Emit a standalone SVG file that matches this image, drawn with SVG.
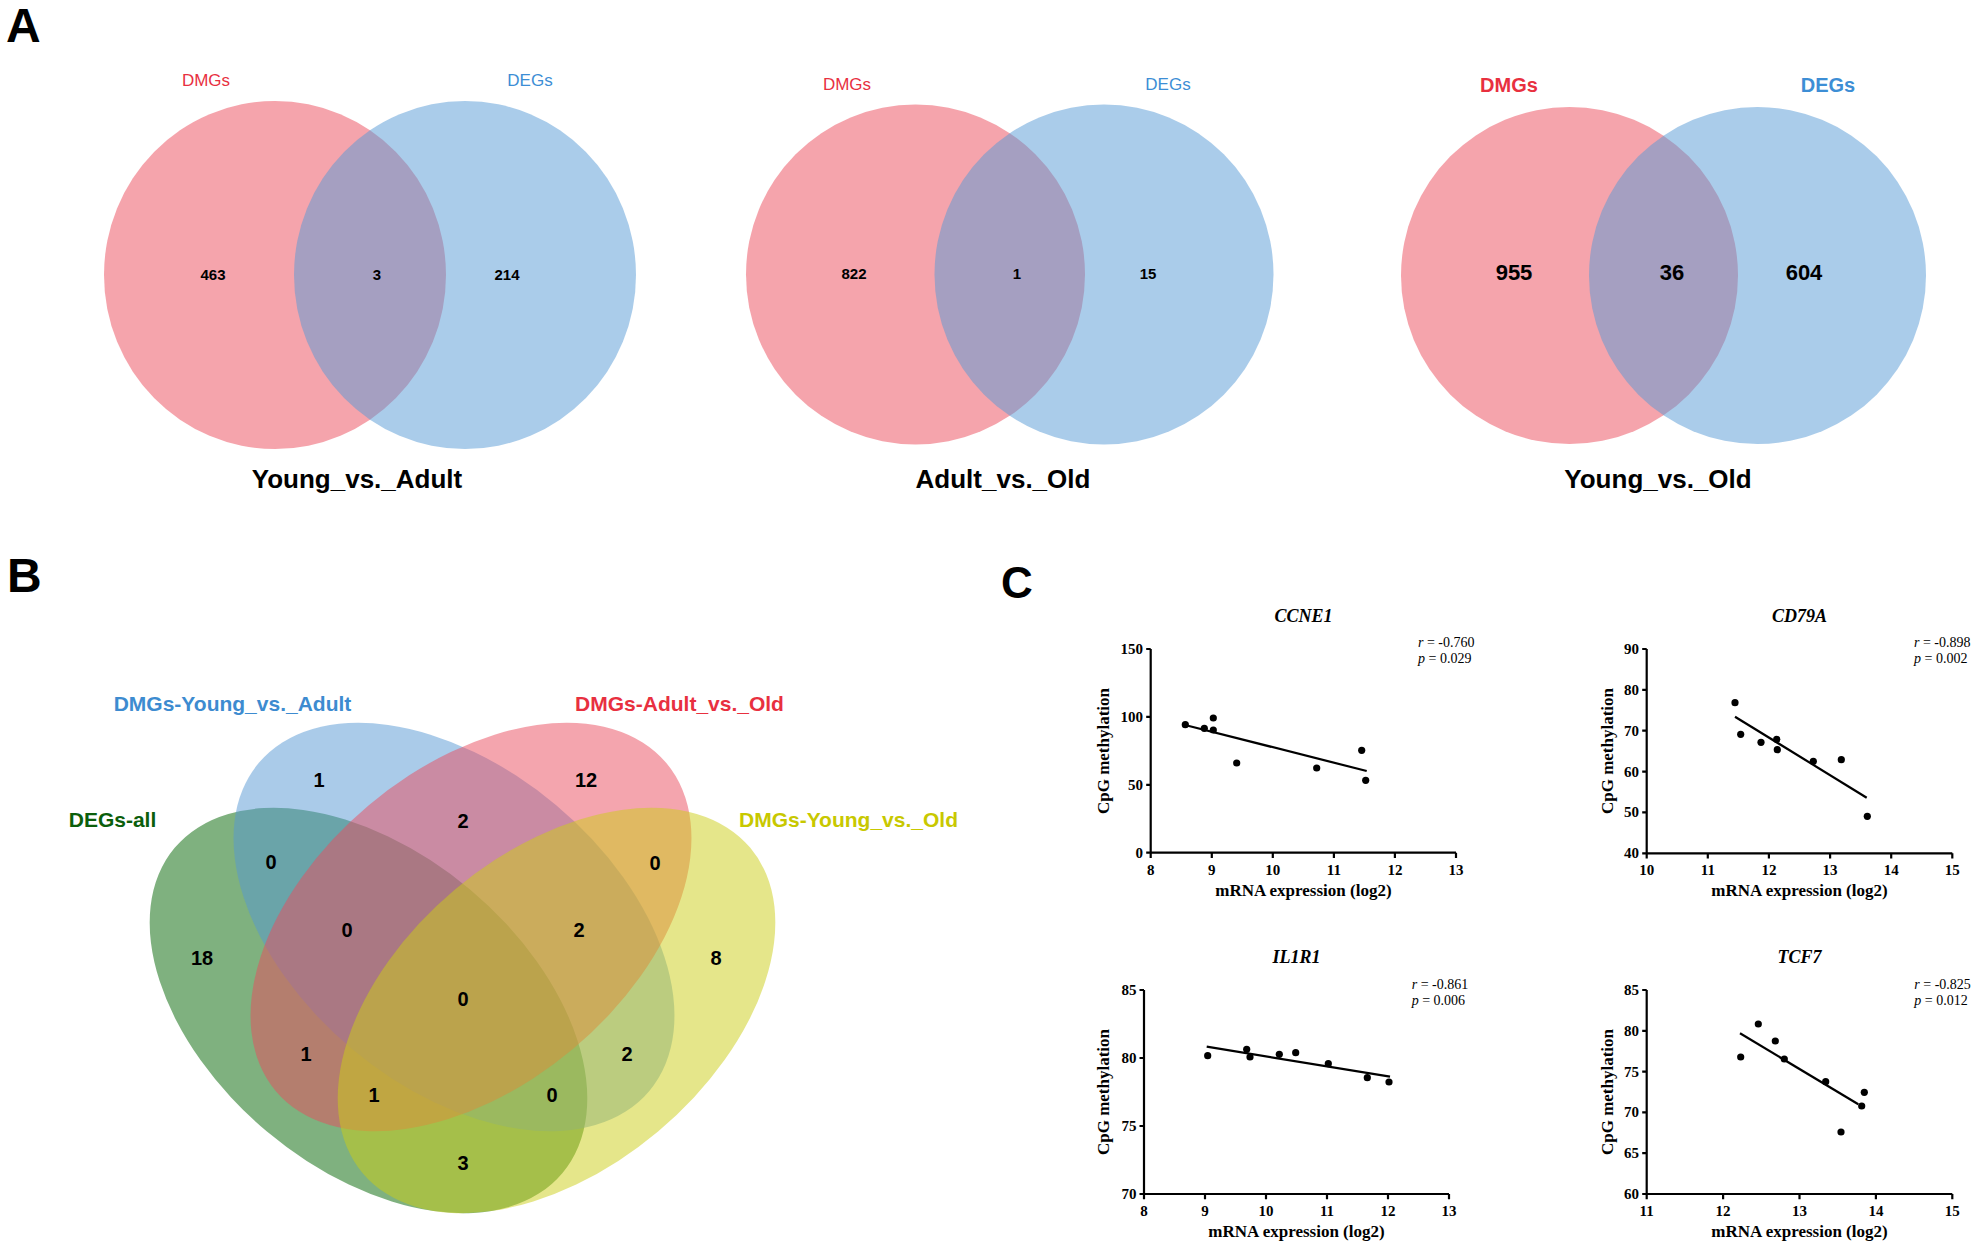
<svg xmlns="http://www.w3.org/2000/svg" width="1980" height="1250" viewBox="0 0 1980 1250">
<style>
.pl{font-family:"Liberation Sans",Arial,sans-serif;font-weight:bold;font-size:48px;fill:#000}
.sl{font-family:"Liberation Sans",Arial,sans-serif;font-size:17px}
.slb{font-family:"Liberation Sans",Arial,sans-serif;font-size:20px;font-weight:bold}
.num{font-family:"Liberation Sans",Arial,sans-serif;font-weight:bold;font-size:15px;fill:#000;text-anchor:middle}
.numL{font-family:"Liberation Sans",Arial,sans-serif;font-weight:bold;font-size:22px;fill:#000;text-anchor:middle}
.ttl{font-family:"Liberation Sans",Arial,sans-serif;font-weight:bold;font-size:26px;fill:#000;text-anchor:middle}
.red{fill:#E8303F}
.blu{fill:#3D8ED5}
.vr{fill:#EB4959;fill-opacity:0.5}
.vb{fill:#5599D5;fill-opacity:0.5}
.bl{font-family:"Liberation Sans",Arial,sans-serif;font-weight:bold;font-size:21px}
.bn{font-family:"Liberation Sans",Arial,sans-serif;font-weight:bold;font-size:20px;fill:#000;text-anchor:middle}
.eg{fill:#006400;fill-opacity:0.5}
.eb{fill:#5597D3;fill-opacity:0.5}
.er{fill:#E94B5D;fill-opacity:0.5}
.ey{fill:#CBCD15;fill-opacity:0.5}
.ax{fill:none;stroke:#000;stroke-width:2.2}
.rl{fill:none;stroke:#000;stroke-width:2.2}
.pt{fill:#000}
.tk{font-family:"Liberation Serif","Times New Roman",serif;font-weight:bold;font-size:15px;fill:#000}
.ty{text-anchor:end}
.tx{text-anchor:middle}
.gt{font-family:"Liberation Serif","Times New Roman",serif;font-weight:bold;font-style:italic;font-size:18px;text-anchor:middle}
.xl{font-family:"Liberation Serif","Times New Roman",serif;font-weight:bold;font-size:17px;text-anchor:middle}
.st{font-family:"Liberation Serif","Times New Roman",serif;font-size:14px}
.it{font-style:italic}
</style>

<!-- Panel labels -->
<text class="pl" x="6" y="42">A</text>
<text class="pl" x="7" y="592">B</text>
<text class="pl" x="1001" y="598" style="font-size:44px">C</text>

<!-- Panel A1 -->
<g id="venn-young-adult">
  <ellipse class="vr" cx="275" cy="275" rx="171" ry="174"/>
  <ellipse class="vb" cx="465" cy="275" rx="171" ry="174"/>
  <text class="sl red" x="206" y="86" text-anchor="middle">DMGs</text>
  <text class="sl blu" x="530" y="86" text-anchor="middle">DEGs</text>
  <text class="num" x="213" y="280">463</text>
  <text class="num" x="377" y="280">3</text>
  <text class="num" x="507" y="280">214</text>
  <text class="ttl" x="357" y="488">Young_vs._Adult</text>
</g>

<!-- Panel A2 -->
<g id="venn-adult-old">
  <ellipse class="vr" cx="915.5" cy="274.5" rx="169.5" ry="170"/>
  <ellipse class="vb" cx="1104" cy="274.5" rx="169.5" ry="170"/>
  <text class="sl red" x="847" y="90" text-anchor="middle">DMGs</text>
  <text class="sl blu" x="1168" y="90" text-anchor="middle">DEGs</text>
  <text class="num" x="854" y="279">822</text>
  <text class="num" x="1017" y="279">1</text>
  <text class="num" x="1148" y="279">15</text>
  <text class="ttl" x="1003" y="488">Adult_vs._Old</text>
</g>

<!-- Panel A3 -->
<g id="venn-young-old">
  <ellipse class="vr" cx="1569.5" cy="275.5" rx="168.5" ry="168.5"/>
  <ellipse class="vb" cx="1757.5" cy="275.5" rx="168.5" ry="168.5"/>
  <text class="slb red" x="1509" y="92" text-anchor="middle">DMGs</text>
  <text class="slb blu" x="1828" y="92" text-anchor="middle">DEGs</text>
  <text class="numL" x="1514" y="280">955</text>
  <text class="numL" x="1672" y="280">36</text>
  <text class="numL" x="1804" y="280">604</text>
  <text class="ttl" x="1658" y="488">Young_vs._Old</text>
</g>

<!-- Panel B: four-set Venn -->
<g id="venn4">
  <g id="set-degs-all"><ellipse class="eg" cx="368.5" cy="1010.5" rx="253" ry="158" transform="rotate(40 368.5 1010.5)"/></g>
  <g id="set-dmgs-young-adult"><ellipse class="eb" cx="454" cy="927" rx="255" ry="159" transform="rotate(40 454 927)"/></g>
  <g id="set-dmgs-adult-old"><ellipse class="er" cx="471" cy="927" rx="255" ry="159" transform="rotate(-40 471 927)"/></g>
  <g id="set-dmgs-young-old"><ellipse class="ey" cx="556.5" cy="1010.5" rx="253" ry="158" transform="rotate(-40 556.5 1010.5)"/></g>
  <text class="bl" x="232.5" y="711" text-anchor="middle" fill="#3D8BD0">DMGs-Young_vs._Adult</text>
  <text class="bl" x="679.5" y="711" text-anchor="middle" fill="#E8303F">DMGs-Adult_vs._Old</text>
  <text class="bl" x="112.5" y="827" text-anchor="middle" fill="#0B5E0B">DEGs-all</text>
  <text class="bl" x="739" y="827" fill="#C8C800">DMGs-Young_vs._Old</text>
  <text class="bn" x="319" y="787">1</text>
  <text class="bn" x="586" y="787">12</text>
  <text class="bn" x="463" y="828">2</text>
  <text class="bn" x="271" y="869">0</text>
  <text class="bn" x="655" y="870">0</text>
  <text class="bn" x="202" y="965">18</text>
  <text class="bn" x="716" y="965">8</text>
  <text class="bn" x="347" y="937">0</text>
  <text class="bn" x="579" y="937">2</text>
  <text class="bn" x="463" y="1006">0</text>
  <text class="bn" x="306" y="1061">1</text>
  <text class="bn" x="627" y="1061">2</text>
  <text class="bn" x="374" y="1102">1</text>
  <text class="bn" x="552" y="1102">0</text>
  <text class="bn" x="463" y="1170">3</text>
</g>

<!-- Panel C: CCNE1 -->
<g id="plot-ccne1">
  <text class="gt" x="1303.4" y="622">CCNE1</text>
  <path class="ax" d="M1150.7,649V852.7H1456M1146.2,649H1150.7M1146.2,716.9H1150.7M1146.2,784.8H1150.7M1146.2,852.7H1150.7M1150.7,852.7V858M1211.8,852.7V858M1272.8,852.7V858M1333.9,852.7V858M1394.9,852.7V858M1456,852.7V858"/>
  <text class="tk ty" x="1143" y="654">150</text>
  <text class="tk ty" x="1143" y="722">100</text>
  <text class="tk ty" x="1143" y="790">50</text>
  <text class="tk ty" x="1143" y="858">0</text>
  <text class="tk tx" x="1150.7" y="875">8</text>
  <text class="tk tx" x="1211.8" y="875">9</text>
  <text class="tk tx" x="1272.8" y="875">10</text>
  <text class="tk tx" x="1333.9" y="875">11</text>
  <text class="tk tx" x="1394.9" y="875">12</text>
  <text class="tk tx" x="1456" y="875">13</text>
  <text class="xl" x="1303.4" y="896">mRNA expression (log2)</text>
  <text class="xl" transform="translate(1108.5 751) rotate(-90)">CpG methylation</text>
  <text class="st" x="1418" y="647"><tspan class="it">r</tspan> = -0.760</text>
  <text class="st" x="1418" y="663"><tspan class="it">p</tspan> = 0.029</text>
  <path class="rl" d="M1188,725.7L1366.7,771"/>
  <g class="pt">
    <circle cx="1185.3" cy="724.7" r="3.6"/><circle cx="1204.3" cy="728.3" r="3.6"/>
    <circle cx="1213.3" cy="718" r="3.6"/><circle cx="1213.3" cy="730" r="3.6"/>
    <circle cx="1236.7" cy="763" r="3.6"/><circle cx="1316.7" cy="768" r="3.6"/>
    <circle cx="1361.7" cy="750.3" r="3.6"/><circle cx="1365.7" cy="780.3" r="3.6"/>
  </g>
</g>

<!-- Panel C: CD79A -->
<g id="plot-cd79a">
  <text class="gt" x="1799.5" y="622">CD79A</text>
  <path class="ax" d="M1646.7,649V853.3H1952.3M1642.2,649H1646.7M1642.2,689.9H1646.7M1642.2,730.7H1646.7M1642.2,771.6H1646.7M1642.2,812.4H1646.7M1642.2,853.3H1646.7M1646.7,853.3V858.6M1707.8,853.3V858.6M1768.9,853.3V858.6M1830.1,853.3V858.6M1891.2,853.3V858.6M1952.3,853.3V858.6"/>
  <text class="tk ty" x="1639" y="654">90</text>
  <text class="tk ty" x="1639" y="695">80</text>
  <text class="tk ty" x="1639" y="736">70</text>
  <text class="tk ty" x="1639" y="777">60</text>
  <text class="tk ty" x="1639" y="817">50</text>
  <text class="tk ty" x="1639" y="858">40</text>
  <text class="tk tx" x="1646.7" y="875">10</text>
  <text class="tk tx" x="1707.8" y="875">11</text>
  <text class="tk tx" x="1768.9" y="875">12</text>
  <text class="tk tx" x="1830.1" y="875">13</text>
  <text class="tk tx" x="1891.2" y="875">14</text>
  <text class="tk tx" x="1952.3" y="875">15</text>
  <text class="xl" x="1799.5" y="896">mRNA expression (log2)</text>
  <text class="xl" transform="translate(1612.5 751) rotate(-90)">CpG methylation</text>
  <text class="st" x="1914" y="647"><tspan class="it">r</tspan> = -0.898</text>
  <text class="st" x="1914" y="663"><tspan class="it">p</tspan> = 0.002</text>
  <path class="rl" d="M1735,716.7L1866.7,797.7"/>
  <g class="pt">
    <circle cx="1735" cy="702.7" r="3.6"/><circle cx="1740.7" cy="734.3" r="3.6"/>
    <circle cx="1761" cy="742.3" r="3.6"/><circle cx="1776.7" cy="739.3" r="3.6"/>
    <circle cx="1777.3" cy="749.7" r="3.6"/><circle cx="1813.3" cy="761.3" r="3.6"/>
    <circle cx="1841.3" cy="759.7" r="3.6"/><circle cx="1867.3" cy="816.3" r="3.6"/>
  </g>
</g>

<!-- Panel C: IL1R1 -->
<g id="plot-il1r1">
  <text class="gt" x="1296.5" y="963">IL1R1</text>
  <path class="ax" d="M1144,990V1194H1449M1139.5,990H1144M1139.5,1058H1144M1139.5,1126H1144M1139.5,1194H1144M1144,1194V1199.3M1205,1194V1199.3M1266,1194V1199.3M1327,1194V1199.3M1388,1194V1199.3M1449,1194V1199.3"/>
  <text class="tk ty" x="1136.5" y="995">85</text>
  <text class="tk ty" x="1136.5" y="1063">80</text>
  <text class="tk ty" x="1136.5" y="1131">75</text>
  <text class="tk ty" x="1136.5" y="1199">70</text>
  <text class="tk tx" x="1144" y="1216">8</text>
  <text class="tk tx" x="1205" y="1216">9</text>
  <text class="tk tx" x="1266" y="1216">10</text>
  <text class="tk tx" x="1327" y="1216">11</text>
  <text class="tk tx" x="1388" y="1216">12</text>
  <text class="tk tx" x="1449" y="1216">13</text>
  <text class="xl" x="1296.5" y="1237">mRNA expression (log2)</text>
  <text class="xl" transform="translate(1108.5 1092) rotate(-90)">CpG methylation</text>
  <text class="st" x="1411.7" y="989"><tspan class="it">r</tspan> = -0.861</text>
  <text class="st" x="1411.7" y="1005"><tspan class="it">p</tspan> = 0.006</text>
  <path class="rl" d="M1206.7,1046.7L1390,1076.7"/>
  <g class="pt">
    <circle cx="1207.7" cy="1055.7" r="3.6"/><circle cx="1246.7" cy="1049.3" r="3.6"/>
    <circle cx="1250" cy="1057" r="3.6"/><circle cx="1279.3" cy="1054.3" r="3.6"/>
    <circle cx="1295.7" cy="1052.7" r="3.6"/><circle cx="1328.3" cy="1063.7" r="3.6"/>
    <circle cx="1367.3" cy="1077.7" r="3.6"/><circle cx="1389" cy="1082" r="3.6"/>
  </g>
</g>

<!-- Panel C: TCF7 -->
<g id="plot-tcf7">
  <text class="gt" x="1799.5" y="963">TCF7</text>
  <path class="ax" d="M1646.7,990V1194H1952.3M1642.2,990H1646.7M1642.2,1030.8H1646.7M1642.2,1071.6H1646.7M1642.2,1112.4H1646.7M1642.2,1153.2H1646.7M1642.2,1194H1646.7M1646.7,1194V1199.3M1723.1,1194V1199.3M1799.5,1194V1199.3M1875.9,1194V1199.3M1952.3,1194V1199.3"/>
  <text class="tk ty" x="1639" y="995">85</text>
  <text class="tk ty" x="1639" y="1036">80</text>
  <text class="tk ty" x="1639" y="1077">75</text>
  <text class="tk ty" x="1639" y="1117">70</text>
  <text class="tk ty" x="1639" y="1158">65</text>
  <text class="tk ty" x="1639" y="1199">60</text>
  <text class="tk tx" x="1646.7" y="1216">11</text>
  <text class="tk tx" x="1723.1" y="1216">12</text>
  <text class="tk tx" x="1799.5" y="1216">13</text>
  <text class="tk tx" x="1875.9" y="1216">14</text>
  <text class="tk tx" x="1952.3" y="1216">15</text>
  <text class="xl" x="1799.5" y="1237">mRNA expression (log2)</text>
  <text class="xl" transform="translate(1612.5 1092) rotate(-90)">CpG methylation</text>
  <text class="st" x="1914.3" y="989"><tspan class="it">r</tspan> = -0.825</text>
  <text class="st" x="1914.3" y="1005"><tspan class="it">p</tspan> = 0.012</text>
  <path class="rl" d="M1740,1033.3L1858.3,1104.3"/>
  <g class="pt">
    <circle cx="1740.7" cy="1057" r="3.6"/><circle cx="1758.3" cy="1024" r="3.6"/>
    <circle cx="1775.3" cy="1041" r="3.6"/><circle cx="1784.3" cy="1059" r="3.6"/>
    <circle cx="1825.7" cy="1081.7" r="3.6"/><circle cx="1841" cy="1132" r="3.6"/>
    <circle cx="1861.7" cy="1106" r="3.6"/><circle cx="1864.3" cy="1092.3" r="3.6"/>
  </g>
</g>
</svg>
